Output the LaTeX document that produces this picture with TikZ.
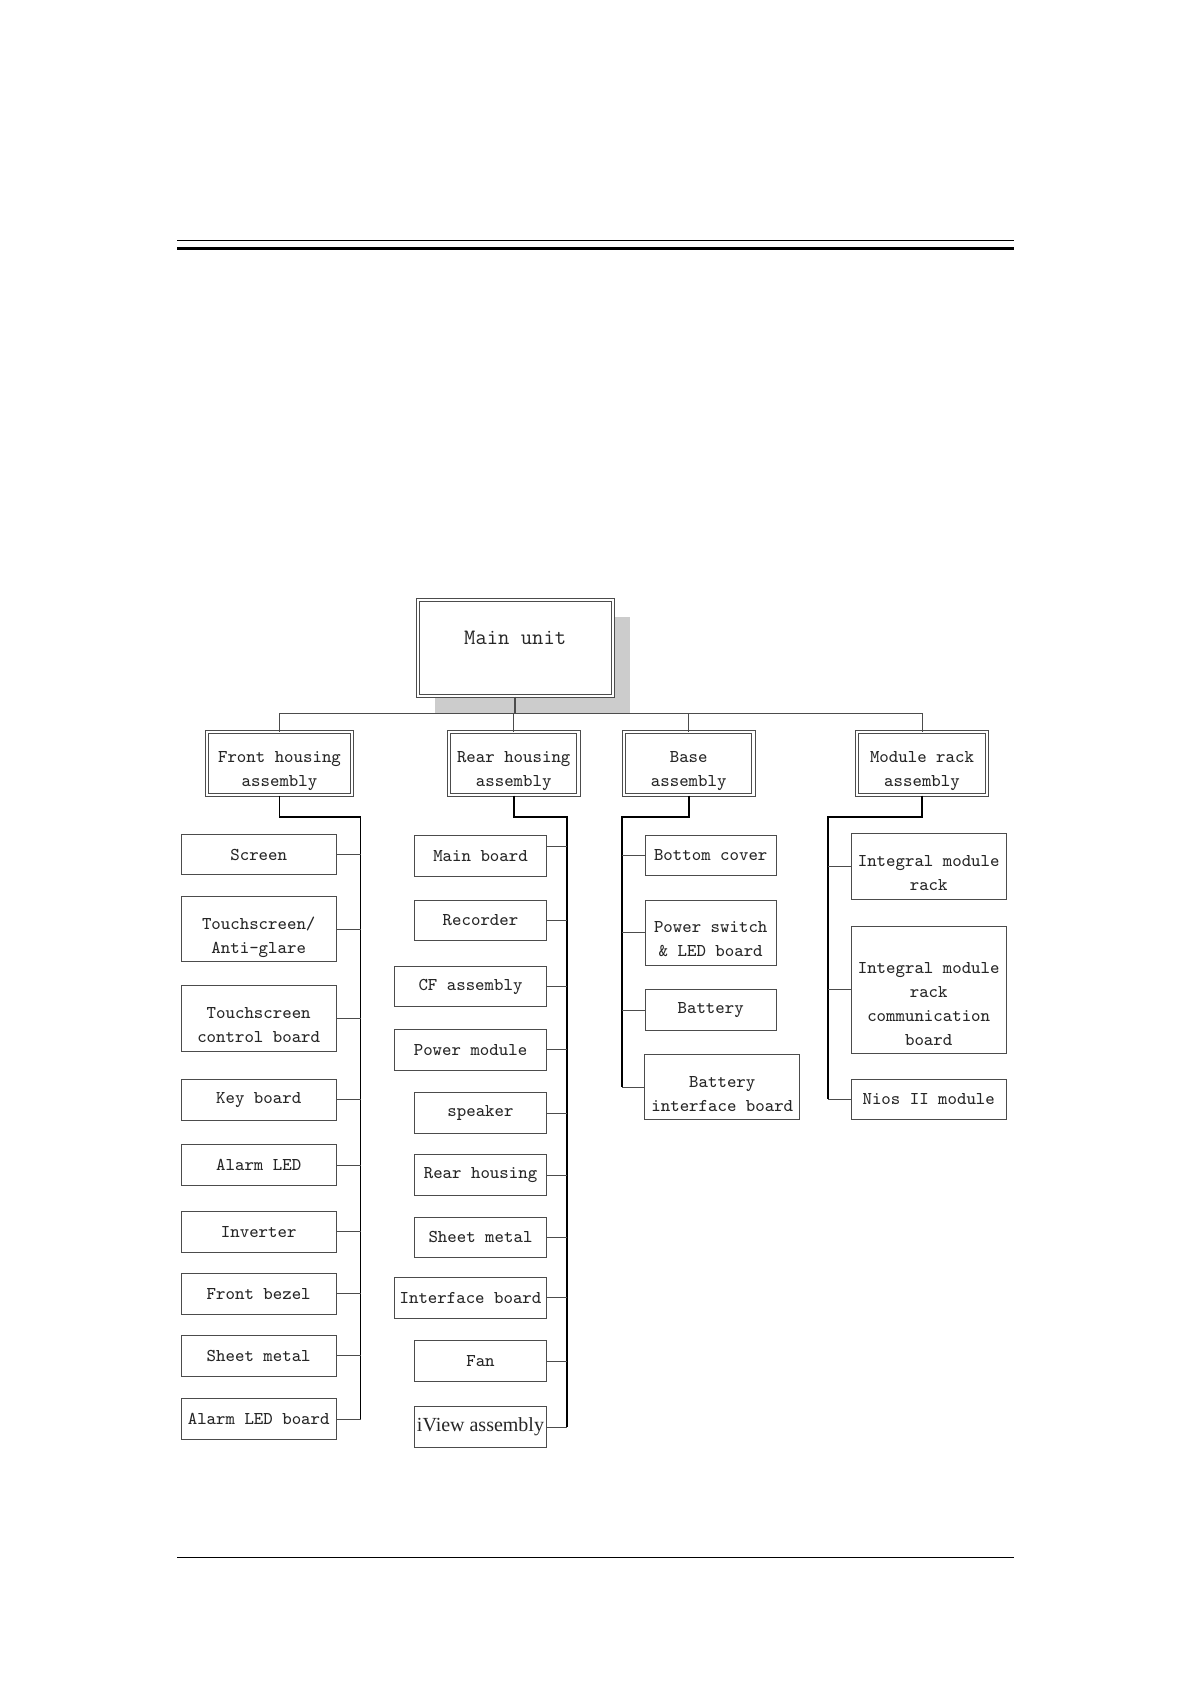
\documentclass[tikz,border=0pt]{standalone}
\usepackage{xcolor}
\usepackage{fontspec}
\usepackage{tikz}
\usetikzlibrary{positioning, shadows}
\newfontfamily\viewfont{Liberation Serif}

\begin{document}
\begin{tikzpicture}[x=0.5pt, y=-0.5pt,
    part/.style={draw=black!70, line width=0.5pt, fill=white, inner sep=1pt, align=center, text=black!85, font=\ttfamily\fontsize{9}{12}\selectfont, minimum width=77.5pt, minimum height=20.3pt},
    lower/.style={text height=#1, text depth=0pt},
    twoline/.style={minimum height=32.7pt, lower=24.1pt},
    narrow/.style={minimum width=65.7pt},
    wide/.style={minimum width=75.7pt},
    asm/.style={part, double, double distance=1.15pt, minimum width=64.7pt, minimum height=31.5pt, lower=23pt},
    bus/.style={line width=0.85pt, black},
    stub/.style={line width=0.5pt, black!70}
]
\useasboundingbox (0,0) rectangle (1190,1684);

% page rules
\draw[line width=0.6pt] (177,240.3) -- (1013.7,240.3);
\draw[line width=1.35pt] (177,248.3) -- (1013.7,248.3);
\draw[line width=0.6pt] (177,1557.7) -- (1013.7,1557.7);

% top level
\node[part, double, double distance=1.15pt, minimum width=97.5pt, minimum height=48pt, font=\ttfamily\fontsize{11}{14}\selectfont, text height=8pt, text depth=12pt, drop shadow={shadow xshift=8.6pt, shadow yshift=-8.3pt, fill=black!20, opacity=1}] (main) at (515.2,648) {Main unit};

\node[asm, minimum width=72.2pt] (front) at (279.5,763.5) {Front housing\\assembly};
\node[asm] (rear) at (513.7,763.5) {Rear housing\\assembly};
\node[asm] (base) at (688.7,763.5) {Base\\assembly};
\node[asm] (modrack) at (922,763.5) {Module rack\\assembly};

\coordinate (top) at (515.2,713.3);
\draw[stub, line width=0.8pt] (main.south) -- (top);
\draw[stub] (front.north) |- (top) -| (modrack.north);
\draw[stub] (rear.north) -- (rear.north |- top);
\draw[stub] (base.north) -- (base.north |- top);

% front housing assembly
\node[part] (screen) at (258.7,854.5) {Screen};
\node[part, twoline] (touch) at (258.7,929.2) {Touchscreen/\\Anti-glare};
\node[part, twoline] (tcb) at (258.7,1018.5) {Touchscreen\\control board};
\node[part] (key) at (258.7,1099.8) {Key board};
\node[part] (alarmled) at (258.7,1165.2) {Alarm LED};
\node[part] (inverter) at (258.7,1231.9) {Inverter};
\node[part] (bezel) at (258.7,1293.7) {Front bezel};
\node[part] (sheetf) at (258.7,1355.9) {Sheet metal};
\node[part] (aledb) at (258.7,1419.2) {Alarm LED board};

\coordinate (fbus) at (360.5,817);
\draw[bus] (front.south) |- (fbus) -- (fbus |- aledb.east);
\foreach \n in {screen,touch,tcb,key,alarmled,inverter,bezel,sheetf,aledb}
    \draw[stub] (\n.east) -- (\n.east -| fbus);

% rear housing assembly
\node[part, narrow] (mainb) at (480.5,856) {Main board};
\node[part, narrow] (recorder) at (480.5,920.5) {Recorder};
\node[part, wide] (cfasm) at (470.5,986.5) {CF assembly};
\node[part, wide] (power) at (470.5,1049.9) {Power module};
\node[part, narrow] (speaker) at (480.5,1113.2) {speaker};
\node[part, narrow] (rearh) at (480.5,1175.2) {Rear housing};
\node[part, narrow] (sheetr) at (480.5,1237.4) {Sheet metal};
\node[part, wide] (iface) at (470.5,1297.9) {Interface board};
\node[part, narrow] (fan) at (480.5,1361.2) {Fan};
\node[part, narrow, font=\viewfont\fontsize{10}{12}\selectfont] (iview) at (480.5,1427.2) {iView assembly};

\coordinate (rbus) at (566.7,817);
\draw[bus] (rear.south) |- (rbus) -- (rbus |- iview.east);
\draw[stub] ([yshift=5pt]mainb.east) -- ([yshift=5pt]mainb.east -| rbus);
\foreach \n in {recorder,cfasm,power,speaker,rearh,sheetr,iface,fan,iview}
    \draw[stub] (\n.east) -- (\n.east -| rbus);

% base assembly
\node[part, narrow] (bottom) at (710.7,855.5) {Bottom cover};
\node[part, narrow, twoline] (pswitch) at (710.7,932.7) {Power switch\\\& LED board};
\node[part, narrow] (battery) at (710.7,1010) {Battery};
\node[part, twoline] (batif) at (722.3,1087.2) {Battery\\interface board};

\coordinate (bbus) at (622.3,817);
\draw[bus] (base.south) |- (bbus) -- (bbus |- batif.west);
\foreach \n in {bottom,pswitch,battery,batif}
    \draw[stub] (\n.west) -- (\n.west -| bbus);

% module rack assembly
\node[part, twoline] (imr) at (928.7,866.5) {Integral module\\rack};
\node[part, minimum height=63.5pt, lower=55.5pt] (imrc) at (928.7,989.5) {Integral module\\rack\\communication\\board};
\node[part] (nios) at (928.7,1099.4) {Nios II module};

\coordinate (mbus) at (827.7,817);
\draw[bus] (modrack.south) |- (mbus) -- (mbus |- nios.west);
\foreach \n in {imr,imrc,nios}
    \draw[stub] (\n.west) -- (\n.west -| mbus);
\end{tikzpicture}
\end{document}
